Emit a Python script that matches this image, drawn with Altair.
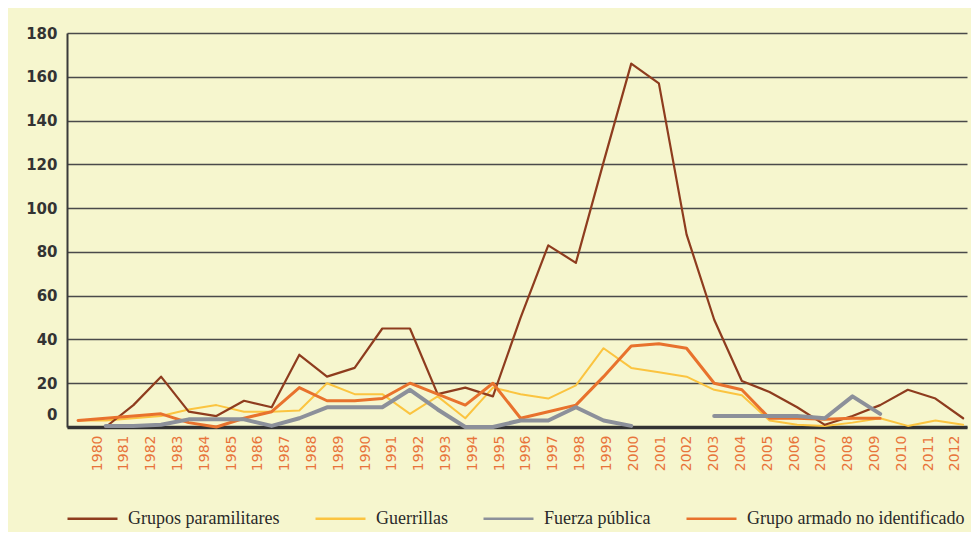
import altair as alt
import pandas as pd

years = list(range(1980, 2013))
paramilitares = [None, 0, 10, 23, 7, 5, 12, 9, 33, 23, 27, 45, 45, 15, 18, 14, 50, 83, 75, 121,
                 166, 157, 88, 49, 21, 16, 9, 1, 5, 10, 17, 13, 4]
guerrillas = [3, 3, 4, 5, 8, 10, 7, 7, 7.5, 20, 15, 15, 6, 14, 4, 18, 15, 13, 19, 36,
              27, 25, 23, 17, 14.5, 3, 1, 0.5, 2, 4, 0.5, 3, 1]
fuerza_publica = [None, 0.5, 0.5, 1, 3.5, 3.5, 3.5, 0.5, 4, 9, 9, 9, 17, 8, 0, 0, 3, 3, 9, 3,
                  0.5, None, None, 5, 5, 5, 5, 4, 14, 6, None, None, None]
no_identificado = [3, 4, 5, 6, 2, 0, 4, 7, 18, 12, 12, 13, 20, 15, 10, 20, 4, 7, 10, 23,
                   37, 38, 36, 20, 17, 4, 4, 3.5, 4, 4, None, None, None]

series_names = ["Grupos paramilitares", "Guerrillas", "Fuerza pública", "Grupo armado no identificado"]
series_colors = ["#8E3C1E", "#FBC440", "#8C909A", "#E8722D"]
series_widths = [2.2, 2.0, 4.0, 3.0]
draw_order = ["Guerrillas", "Grupos paramilitares", "Grupo armado no identificado", "Fuerza pública"]
y_ticks = [0, 20, 40, 60, 80, 100, 120, 140, 160, 180]

rows = []
for name, vals in zip(series_names, [paramilitares, guerrillas, fuerza_publica, no_identificado]):
    seg = 0
    gap = True
    for yr, v in zip(years, vals):
        if v is None:
            gap = True
            continue
        if gap:
            seg += 1
            gap = False
        rows.append({"year": yr, "value": v, "serie": name, "seg": f"{name}-{seg}"})
df = pd.DataFrame(rows)

color_scale = alt.Scale(domain=series_names, range=series_colors)
legend = alt.Legend(
    title=None, orient="none", legendX=-1, legendY=459, direction="horizontal",
    symbolType="stroke", symbolSize=2500, symbolStrokeWidth=2.5,
    labelFont="Liberation Serif", labelFontSize=18, labelColor="#2a2a2a",
    labelOffset=9, columnPadding=30, padding=0, labelLimit=400,
)
y_axis = alt.Axis(
    values=y_ticks, title=None, grid=True, gridColor="#4a4a4a", gridWidth=1.6,
    ticks=False, domainColor="#3a3a3a", domainWidth=2,
    labelFont="DejaVu Sans", labelFontWeight="bold", labelFontSize=15, labelColor="#333333",
    labelPadding=10,
    labelOffset={"condition": {"test": "datum.value === 0", "value": -13}, "value": 0},
)

layers = []
for name in draw_order:
    i = series_names.index(name)
    layers.append(
        alt.Chart(df).transform_filter(alt.datum.serie == name)
        .mark_line(strokeWidth=series_widths[i], strokeJoin="round", strokeCap="round")
        .encode(
            x=alt.X("year:Q", scale=alt.Scale(domain=[1979.6, 2012.14], nice=False, zero=False), axis=None),
            y=alt.Y("value:Q", scale=alt.Scale(domain=[0, 180], nice=False), axis=y_axis),
            color=alt.Color("serie:N", scale=color_scale, legend=legend),
            detail="seg:N",
        )
    )

axis_layer = alt.Chart(pd.DataFrame({"year": years})).mark_point(opacity=0).encode(
    x=alt.X("year:Q", scale=alt.Scale(domain=[1978.88, 2012.45], nice=False, zero=False),
            axis=alt.Axis(orient="bottom", values=years, format="d", labelAngle=-90, title=None,
                          ticks=False, grid=False, domainColor="#333333", domainWidth=3.5,
                          labelColor="#E8743B", labelFont="DejaVu Sans", labelFontSize=14,
                          labelPadding=8))
)

chart = alt.layer(*layers, axis_layer).resolve_scale(x="independent").properties(
    width=900, height=394,
    padding={"left": 59, "top": 25, "right": 4, "bottom": 105},
    autosize=alt.AutoSizeParams(type="none"),
    background="#F6F6CE",
).configure_view(stroke="transparent")

chart.save("out.html", embed_options={"renderer": "svg", "actions": False})
